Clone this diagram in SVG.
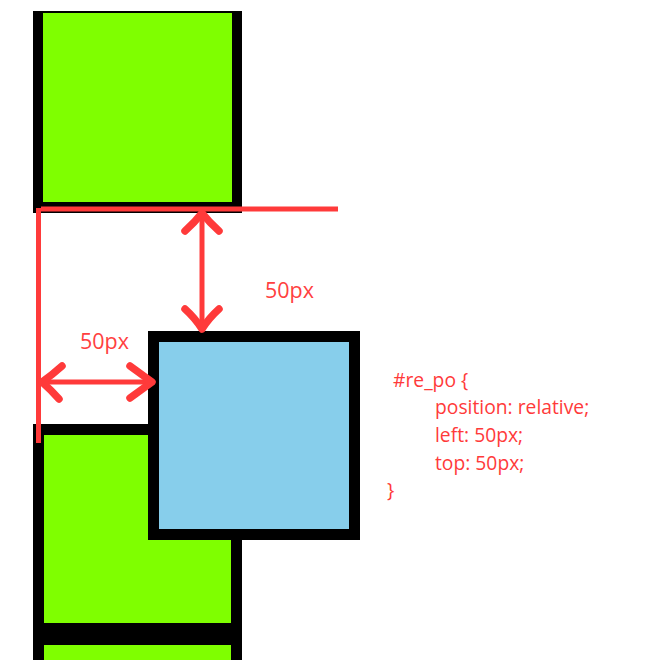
<svg xmlns="http://www.w3.org/2000/svg" width="648" height="660" viewBox="0 0 648 660">
<style>
.green{fill:#7fff00;stroke:#000;stroke-width:11}
.blk{fill:#000}
.gf{fill:#7fff00}
.blue{fill:#87ceeb;stroke:#000;stroke-width:11}
.rl{fill:none;stroke:#ff3a3a;stroke-width:5;stroke-linecap:butt}
.head{fill:none;stroke:#ff3a3a;stroke-width:7.5;stroke-linecap:round;stroke-linejoin:round}
.shaft{fill:none;stroke:#ff3a3a;stroke-width:5}
.lbl{font-family:"Open Sans","Noto Sans","Liberation Sans",sans-serif;font-size:21.5px;fill:#ff4040}
.code{font-family:"Open Sans","Noto Sans","Liberation Sans",sans-serif;font-size:19.3px;fill:#ff3a3a}
</style>
<rect width="648" height="660" fill="#fff"/>
<g id="box1"><rect class="blk" x="33" y="11" width="209" height="202"/><rect class="gf" x="43" y="13" width="189" height="189"/></g>
<g id="box2"><rect class="green" x="38.5" y="429.5" width="198" height="199"/></g>
<g id="box3"><rect class="green" x="38.5" y="639.5" width="198" height="60"/></g>
<g id="re_po"><rect class="blue" x="153.5" y="336.5" width="201" height="198"/></g>
<g id="connectors">
<line class="rl" x1="38.5" y1="208" x2="38.5" y2="443"/>
<line class="rl" x1="41" y1="209" x2="338" y2="209" stroke-width="6"/>
<line class="shaft" x1="202" y1="214" x2="202" y2="328"/>
<path class="head" d="M185,231 Q195,222 202,213 Q209,222 219,231"/>
<path class="head" d="M185,309 Q195,318 202,329 Q209,318 219,309"/>
<line class="shaft" x1="42" y1="382" x2="151" y2="382"/>
<path class="head" d="M62,366 Q52,375 42,382 Q51,390 59,399"/>
<path class="head" d="M130,366 Q141,374 152,382 Q141,390 130,398"/>
</g>
<g id="labels">
<text class="lbl" x="265" y="298">50px</text>
<text class="lbl" x="80" y="349">50px</text>
</g>
<g id="code">
<text class="code" x="393" y="387">#re_po {</text>
<text class="code" x="435" y="414">position: relative;</text>
<text class="code" x="435" y="442">left: 50px;</text>
<text class="code" x="435" y="470">top: 50px;</text>
<text class="code" x="387" y="497">}</text>
</g>
</svg>
